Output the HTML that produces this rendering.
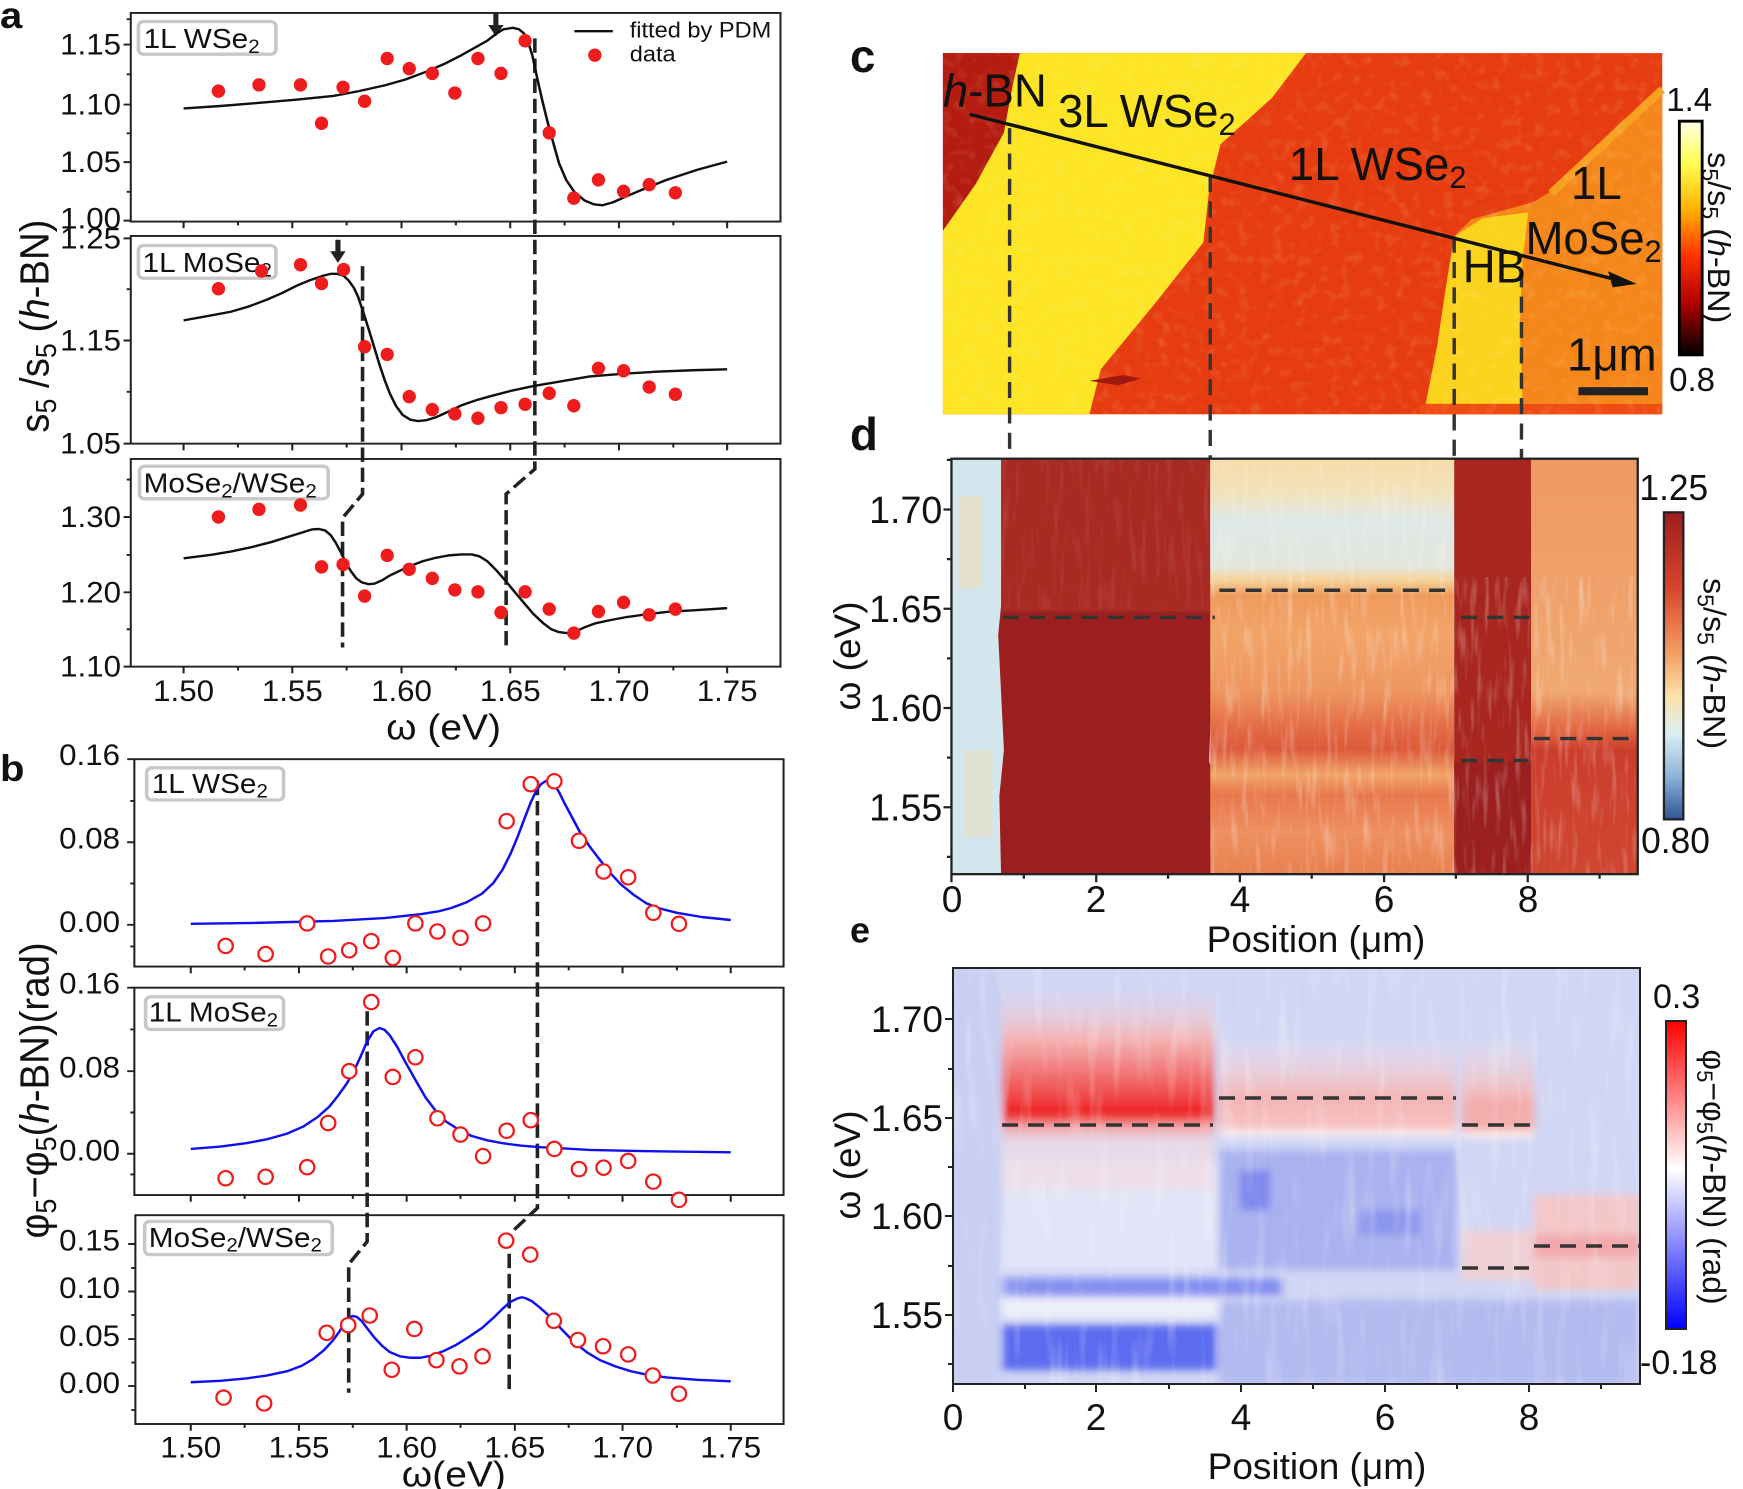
<!DOCTYPE html>
<html><head><meta charset="utf-8"><style>
html,body{margin:0;padding:0;background:#fff}
svg{display:block}
text{font-family:"Liberation Sans",Arial,sans-serif;fill:#111}
</style></head><body>
<svg width="1743" height="1489" viewBox="0 0 1743 1489" xmlns="http://www.w3.org/2000/svg">
<defs>
<linearGradient id="cbc" x1="0" y1="0" x2="0" y2="1">
<stop offset="0" stop-color="#ffffe8"/><stop offset="0.18" stop-color="#ffff50"/><stop offset="0.38" stop-color="#ffb000"/><stop offset="0.58" stop-color="#ff3000"/><stop offset="0.78" stop-color="#b00000"/><stop offset="1" stop-color="#000"/></linearGradient>
<linearGradient id="cbd" x1="0" y1="0" x2="0" y2="1">
<stop offset="0" stop-color="#a01c1c"/><stop offset="0.25" stop-color="#d8452c"/><stop offset="0.45" stop-color="#f39a60"/><stop offset="0.6" stop-color="#fbe2a8"/><stop offset="0.72" stop-color="#dceef2"/><stop offset="0.86" stop-color="#8cb4d8"/><stop offset="1" stop-color="#2f5597"/></linearGradient>
<linearGradient id="cbe" x1="0" y1="0" x2="0" y2="1">
<stop offset="0" stop-color="#ff0000"/><stop offset="0.48" stop-color="#ffffff"/><stop offset="1" stop-color="#0000ff"/></linearGradient>
<linearGradient id="dmid" x1="0" y1="795" x2="0" y2="1515" gradientUnits="userSpaceOnUse">
<stop offset="0" stop-color="#f6dca8"/><stop offset="0.08" stop-color="#f2e2bc"/><stop offset="0.15" stop-color="#dfe8e6"/><stop offset="0.26" stop-color="#e2e6dc"/><stop offset="0.29" stop-color="#f5d49c"/><stop offset="0.33" stop-color="#ef9a5c"/><stop offset="0.42" stop-color="#f2a468"/><stop offset="0.56" stop-color="#ee9660"/><stop offset="0.65" stop-color="#e36a44"/><stop offset="0.70" stop-color="#dc5a3a"/><stop offset="0.76" stop-color="#f2a468"/><stop offset="0.81" stop-color="#e8784c"/><stop offset="0.9" stop-color="#ee9060"/><stop offset="1" stop-color="#e8804e"/></linearGradient>
<linearGradient id="dright" x1="0" y1="795" x2="0" y2="1515" gradientUnits="userSpaceOnUse">
<stop offset="0" stop-color="#ee9a62"/><stop offset="0.3" stop-color="#f0a06a"/><stop offset="0.56" stop-color="#f0a870"/><stop offset="0.66" stop-color="#e0603e"/><stop offset="0.7" stop-color="#cc3e2c"/><stop offset="1" stop-color="#cf4630"/></linearGradient>
<linearGradient id="ered" x1="0" y1="0" x2="0" y2="1">
<stop offset="0" stop-color="#f0d8e4" stop-opacity="0"/><stop offset="0.35" stop-color="#f4b0b0"/><stop offset="0.7" stop-color="#f04848"/><stop offset="0.8" stop-color="#ee1c1c"/><stop offset="0.88" stop-color="#f5a0a0"/><stop offset="1" stop-color="#f0d8e0" stop-opacity="0.3"/></linearGradient>
<linearGradient id="epink" x1="0" y1="0" x2="0" y2="1">
<stop offset="0" stop-color="#f4e0ea" stop-opacity="0.2"/><stop offset="0.6" stop-color="#f4b4b4"/><stop offset="0.9" stop-color="#f6c0c0"/><stop offset="1" stop-color="#ffffff"/></linearGradient>
<filter id="bl" x="-5%" y="-5%" width="110%" height="110%"><feGaussianBlur stdDeviation="4"/></filter>
<filter id="streak" x="0" y="0" width="100%" height="100%"><feTurbulence type="fractalNoise" baseFrequency="0.09 0.012" numOctaves="2" seed="4"/><feColorMatrix type="matrix" values="0 0 0 0 1  0 0 0 0 1  0 0 0 0 1  0 0 0 2.2 -1.1"/></filter>
<filter id="noise" x="0" y="0" width="100%" height="100%"><feTurbulence type="fractalNoise" baseFrequency="0.05" numOctaves="2" seed="7"/><feColorMatrix type="matrix" values="0 0 0 0 1  0 0 0 0 1  0 0 0 0 0.6  0 0 0 1.4 -0.7"/></filter>
<clipPath id="clipd"><rect x="178" y="795" width="1204" height="720"/></clipPath>
<clipPath id="clipe"><rect x="953" y="968" width="687" height="416"/></clipPath>
</defs>

<!-- ============ PANEL A ============ -->
<g transform="scale(0.5128,0.4796)">
<text x="0" y="58" font-size="78" font-weight="bold">a</text>
<g fill="none" stroke="#222" stroke-width="4">
<rect x="255" y="27" width="1267" height="435"/>
<rect x="255" y="492" width="1267" height="433"/>
<rect x="255" y="957" width="1267" height="433"/>
</g>
<g stroke="#222" stroke-width="4">
<path d="M358,462v14M570,462v14M783,462v14M995,462v14M1207,462v14M1418,462v14M464,462v8M676,462v8M889,462v8M1101,462v8M1313,462v8M358,925v14M570,925v14M783,925v14M995,925v14M1207,925v14M1418,925v14M464,925v8M676,925v8M889,925v8M1101,925v8M1313,925v8M358,1390v14M570,1390v14M783,1390v14M995,1390v14M1207,1390v14M1418,1390v14M464,1390v8M676,1390v8M889,1390v8M1101,1390v8M1313,1390v8"/>
<path d="M255,93h-14M255,218h-14M255,338h-14M255,460h-14M255,155h-8M255,278h-8M255,400h-8M255,40h-8M255,497h-14M255,710h-14M255,925h-14M255,603h-8M255,817h-8M255,1078h-14M255,1235h-14M255,1390h-14M255,1000h-8M255,1157h-8M255,1312h-8"/>
</g>
<g font-size="61" text-anchor="end">
<text x="236" y="114">1.15</text><text x="236" y="239">1.10</text><text x="236" y="359">1.05</text><text x="236" y="476">1.00</text>
<text x="236" y="518">1.25</text><text x="236" y="731">1.15</text><text x="236" y="946">1.05</text>
<text x="236" y="1099">1.30</text><text x="236" y="1256">1.20</text><text x="236" y="1411">1.10</text>
</g>
<g font-size="61" text-anchor="middle">
<text x="358" y="1462">1.50</text><text x="570" y="1462">1.55</text><text x="783" y="1462">1.60</text><text x="995" y="1462">1.65</text><text x="1207" y="1462">1.70</text><text x="1418" y="1462">1.75</text>
</g>
<text x="865" y="1542" font-size="76" text-anchor="middle">ω (eV)</text>
<text transform="translate(95,680) rotate(-90)" font-size="80" text-anchor="middle">s<tspan dy="14" font-size="56">5</tspan><tspan dy="-14"> /s</tspan><tspan dy="14" font-size="56">5</tspan><tspan dy="-14"> (</tspan><tspan font-style="italic">h</tspan>-BN)</text>
<g fill="#fff" stroke="#c8c8c8" stroke-width="7">
<rect x="270" y="45" width="268" height="68" rx="10"/>
<rect x="270" y="512" width="268" height="68" rx="10"/>
<rect x="272" y="972" width="368" height="68" rx="10"/>
</g>
<g font-size="58">
<text x="280" y="100">1L WSe<tspan dy="10" font-size="40">2</tspan></text>
<text x="278" y="567">1L MoSe<tspan dy="10" font-size="40">2</tspan></text>
<text x="280" y="1027">MoSe<tspan dy="10" font-size="40">2</tspan><tspan dy="-10">/WSe</tspan><tspan dy="10" font-size="40">2</tspan></text>
</g>
<path d="M1120,65H1195" stroke="#111" stroke-width="5"/>
<text x="1228" y="78" font-size="46">fitted by PDM</text>
<text x="1228" y="128" font-size="46">data</text>
<g fill="none" stroke="#222" stroke-width="7" stroke-dasharray="30,12">
<path d="M1043,80V978L987,1030V1355"/>
<path d="M707,555V1030L668,1080V1350"/>
</g>
<path d="M962,28h10v24h10l-15,24l-15,-24h10z" fill="#222"/>
<path d="M654,500h10v24h10l-15,24l-15,-24h10z" fill="#222"/>
<g fill="none" stroke="#111" stroke-width="5" stroke-linejoin="round">
<polyline points="358,226 430,221 500,215 575,208 650,200 700,190 750,178 790,166 830,150 865,134 900,115 930,97 950,85 968,70 982,61 1000,58 1012,61 1022,70 1030,88 1038,115 1048,165 1058,212 1068,255 1080,302 1090,340 1104,375 1120,400 1140,418 1158,426 1175,428 1195,422 1220,410 1260,392 1300,375 1360,354 1418,337"/>
<polyline points="358,668 410,658 450,650 485,639 520,625 550,611 580,595 605,584 630,575 645,571 658,571 670,575 680,585 690,600 698,618 705,640 712,663 720,690 730,725 740,760 750,792 760,820 772,846 785,865 800,875 815,878 832,876 850,870 875,858 900,845 930,834 960,825 1000,814 1040,805 1100,794 1150,785 1220,779 1280,775 1350,772 1418,770"/>
<polyline points="358,1164 410,1157 450,1150 490,1141 530,1130 560,1120 590,1110 608,1104 622,1103 634,1106 645,1116 655,1132 665,1152 675,1175 685,1192 695,1206 705,1214 718,1218 730,1217 745,1210 760,1200 780,1190 800,1180 825,1170 850,1163 875,1158 900,1156 920,1156 935,1160 950,1170 967,1188 985,1210 1002,1232 1020,1255 1040,1280 1060,1300 1075,1312 1090,1318 1105,1320 1120,1318 1140,1308 1160,1300 1190,1293 1220,1287 1260,1281 1300,1276 1360,1272 1418,1268"/>
</g>
<g fill="#ee1c1c">
<ellipse cx="1160" cy="115" rx="13" ry="14"/>
<ellipse cx="426" cy="190" rx="13" ry="14"/><ellipse cx="505" cy="177" rx="13" ry="14"/><ellipse cx="586" cy="177" rx="13" ry="14"/><ellipse cx="627" cy="257" rx="13" ry="14"/><ellipse cx="669" cy="182" rx="13" ry="14"/><ellipse cx="711" cy="211" rx="13" ry="14"/><ellipse cx="755" cy="122" rx="13" ry="14"/><ellipse cx="798" cy="143" rx="13" ry="14"/><ellipse cx="843" cy="153" rx="13" ry="14"/><ellipse cx="887" cy="194" rx="13" ry="14"/><ellipse cx="932" cy="122" rx="13" ry="14"/><ellipse cx="977" cy="153" rx="13" ry="14"/><ellipse cx="1024" cy="85" rx="13" ry="14"/><ellipse cx="1071" cy="277" rx="13" ry="14"/><ellipse cx="1119" cy="413" rx="13" ry="14"/><ellipse cx="1167" cy="375" rx="13" ry="14"/><ellipse cx="1216" cy="399" rx="13" ry="14"/><ellipse cx="1266" cy="385" rx="13" ry="14"/><ellipse cx="1317" cy="402" rx="13" ry="14"/>
<ellipse cx="426" cy="602" rx="13" ry="14"/><ellipse cx="510" cy="565" rx="13" ry="14"/><ellipse cx="586" cy="552" rx="13" ry="14"/><ellipse cx="627" cy="591" rx="13" ry="14"/><ellipse cx="670" cy="562" rx="13" ry="14"/><ellipse cx="711" cy="723" rx="13" ry="14"/><ellipse cx="755" cy="739" rx="13" ry="14"/><ellipse cx="798" cy="827" rx="13" ry="14"/><ellipse cx="843" cy="854" rx="13" ry="14"/><ellipse cx="887" cy="863" rx="13" ry="14"/><ellipse cx="932" cy="872" rx="13" ry="14"/><ellipse cx="977" cy="850" rx="13" ry="14"/><ellipse cx="1024" cy="843" rx="13" ry="14"/><ellipse cx="1071" cy="820" rx="13" ry="14"/><ellipse cx="1119" cy="846" rx="13" ry="14"/><ellipse cx="1167" cy="768" rx="13" ry="14"/><ellipse cx="1216" cy="773" rx="13" ry="14"/><ellipse cx="1266" cy="807" rx="13" ry="14"/><ellipse cx="1317" cy="822" rx="13" ry="14"/>
<ellipse cx="426" cy="1078" rx="13" ry="14"/><ellipse cx="505" cy="1062" rx="13" ry="14"/><ellipse cx="586" cy="1053" rx="13" ry="14"/><ellipse cx="627" cy="1182" rx="13" ry="14"/><ellipse cx="669" cy="1177" rx="13" ry="14"/><ellipse cx="711" cy="1243" rx="13" ry="14"/><ellipse cx="755" cy="1158" rx="13" ry="14"/><ellipse cx="798" cy="1187" rx="13" ry="14"/><ellipse cx="843" cy="1206" rx="13" ry="14"/><ellipse cx="887" cy="1230" rx="13" ry="14"/><ellipse cx="932" cy="1234" rx="13" ry="14"/><ellipse cx="977" cy="1277" rx="13" ry="14"/><ellipse cx="1024" cy="1234" rx="13" ry="14"/><ellipse cx="1071" cy="1270" rx="13" ry="14"/><ellipse cx="1119" cy="1320" rx="13" ry="14"/><ellipse cx="1167" cy="1275" rx="13" ry="14"/><ellipse cx="1216" cy="1256" rx="13" ry="14"/><ellipse cx="1266" cy="1282" rx="13" ry="14"/><ellipse cx="1317" cy="1270" rx="13" ry="14"/>
</g>
</g>

<!-- ============ PANEL B ============ -->
<g transform="translate(0,740) scale(0.5128,0.48)">
<text x="0" y="85" font-size="78" font-weight="bold">b</text>
<g fill="none" stroke="#222" stroke-width="4">
<rect x="262" y="40" width="1266" height="432"/>
<rect x="262" y="516" width="1266" height="432"/>
<rect x="264" y="990" width="1264" height="435"/>
</g>
<g stroke="#222" stroke-width="4">
<path d="M372,472v14M583,472v14M793,472v14M1004,472v14M1214,472v14M1425,472v14M477,472v8M688,472v8M898,472v8M1109,472v8M1320,472v8M372,948v14M583,948v14M793,948v14M1004,948v14M1214,948v14M1425,948v14M477,948v8M688,948v8M898,948v8M1109,948v8M1320,948v8M372,1425v14M583,1425v14M793,1425v14M1004,1425v14M1214,1425v14M1425,1425v14M477,1425v8M688,1425v8M898,1425v8M1109,1425v8M1320,1425v8"/>
<path d="M262,40h-14M262,213h-14M262,385h-14M262,127h-8M262,299h-8M262,430h-8M262,516h-14M262,690h-14M262,862h-14M262,603h-8M262,776h-8M262,905h-8M264,1050h-14M264,1149h-14M264,1248h-14M264,1346h-14M264,1100h-8M264,1198h-8M264,1297h-8M264,1396h-8"/>
</g>
<g font-size="61" text-anchor="end">
<text x="234" y="52">0.16</text><text x="234" y="226">0.08</text><text x="234" y="400">0.00</text>
<text x="234" y="528">0.16</text><text x="234" y="703">0.08</text><text x="234" y="876">0.00</text>
<text x="234" y="1064">0.15</text><text x="234" y="1163">0.10</text><text x="234" y="1262">0.05</text><text x="234" y="1360">0.00</text>
</g>
<g font-size="61" text-anchor="middle">
<text x="372" y="1495">1.50</text><text x="583" y="1495">1.55</text><text x="793" y="1495">1.60</text><text x="1004" y="1495">1.65</text><text x="1214" y="1495">1.70</text><text x="1425" y="1495">1.75</text>
</g>
<text x="885" y="1555" font-size="76" text-anchor="middle">ω(eV)</text>
<text transform="translate(95,730) rotate(-90)" font-size="80" text-anchor="middle">φ<tspan dy="14" font-size="56">5</tspan><tspan dy="-14">−φ</tspan><tspan dy="14" font-size="56">5</tspan><tspan dy="-14">(</tspan><tspan font-style="italic">h</tspan>-BN)(rad)</text>
<g fill="#fff" stroke="#c8c8c8" stroke-width="7">
<rect x="286" y="58" width="267" height="67" rx="10"/>
<rect x="284" y="535" width="269" height="68" rx="10"/>
<rect x="282" y="1003" width="366" height="69" rx="10"/>
</g>
<g font-size="58">
<text x="296" y="110">1L WSe<tspan dy="10" font-size="40">2</tspan></text>
<text x="290" y="587">1L MoSe<tspan dy="10" font-size="40">2</tspan></text>
<text x="290" y="1056">MoSe<tspan dy="10" font-size="40">2</tspan><tspan dy="-10">/WSe</tspan><tspan dy="10" font-size="40">2</tspan></text>
</g>
<g fill="none" stroke="#222" stroke-width="7" stroke-dasharray="30,12">
<path d="M1048,85V975L993,1030V1355"/>
<path d="M716,565V1045L680,1092V1360"/>
</g>
<g fill="none" stroke="#1010ee" stroke-width="5" stroke-linejoin="round">
<polyline points="372,383 500,381 650,377 750,371 820,363 855,357 880,350 910,338 940,320 962,298 980,270 996,236 1010,200 1023,163 1035,130 1046,105 1055,92 1065,85 1073,87 1080,92 1090,108 1100,130 1115,160 1130,190 1150,222 1170,250 1190,277 1210,300 1235,322 1260,340 1290,352 1320,360 1370,369 1425,375"/>
<polyline points="372,852 430,847 480,840 520,832 560,820 592,805 620,785 642,764 660,740 676,716 690,690 703,660 715,630 728,607 740,600 750,604 760,615 775,640 790,670 810,708 830,745 850,773 870,795 895,812 920,825 950,834 980,840 1015,845 1050,848 1100,851 1150,854 1280,857 1425,859"/>
<polyline points="372,1338 430,1335 480,1330 520,1324 560,1315 588,1304 610,1290 632,1271 650,1250 662,1232 672,1215 680,1204 688,1200 696,1202 705,1210 717,1227 730,1245 745,1262 760,1275 780,1284 800,1287 820,1287 840,1283 865,1273 890,1260 915,1243 940,1225 962,1204 980,1185 995,1171 1010,1163 1018,1161 1025,1163 1037,1169 1050,1180 1065,1194 1080,1210 1100,1233 1120,1255 1145,1276 1170,1292 1200,1305 1230,1315 1265,1323 1300,1328 1360,1333 1425,1336"/>
</g>
<g fill="#fff" stroke="#ee1c1c" stroke-width="4.5">
<ellipse cx="440" cy="429" rx="14" ry="15"/><ellipse cx="518" cy="446" rx="14" ry="15"/><ellipse cx="599" cy="382" rx="14" ry="15"/><ellipse cx="640" cy="451" rx="14" ry="15"/><ellipse cx="681" cy="438" rx="14" ry="15"/><ellipse cx="724" cy="419" rx="14" ry="15"/><ellipse cx="766" cy="454" rx="14" ry="15"/><ellipse cx="810" cy="382" rx="14" ry="15"/><ellipse cx="853" cy="399" rx="14" ry="15"/><ellipse cx="898" cy="412" rx="14" ry="15"/><ellipse cx="942" cy="382" rx="14" ry="15"/><ellipse cx="988" cy="169" rx="14" ry="15"/><ellipse cx="1035" cy="92" rx="14" ry="15"/><ellipse cx="1081" cy="86" rx="14" ry="15"/><ellipse cx="1129" cy="210" rx="14" ry="15"/><ellipse cx="1177" cy="274" rx="14" ry="15"/><ellipse cx="1225" cy="286" rx="14" ry="15"/><ellipse cx="1274" cy="360" rx="14" ry="15"/><ellipse cx="1324" cy="383" rx="14" ry="15"/>
<ellipse cx="440" cy="913" rx="14" ry="15"/><ellipse cx="518" cy="910" rx="14" ry="15"/><ellipse cx="599" cy="890" rx="14" ry="15"/><ellipse cx="640" cy="798" rx="14" ry="15"/><ellipse cx="681" cy="690" rx="14" ry="15"/><ellipse cx="724" cy="546" rx="14" ry="15"/><ellipse cx="766" cy="702" rx="14" ry="15"/><ellipse cx="810" cy="661" rx="14" ry="15"/><ellipse cx="853" cy="788" rx="14" ry="15"/><ellipse cx="898" cy="822" rx="14" ry="15"/><ellipse cx="942" cy="867" rx="14" ry="15"/><ellipse cx="988" cy="814" rx="14" ry="15"/><ellipse cx="1035" cy="792" rx="14" ry="15"/><ellipse cx="1081" cy="852" rx="14" ry="15"/><ellipse cx="1129" cy="894" rx="14" ry="15"/><ellipse cx="1177" cy="891" rx="14" ry="15"/><ellipse cx="1225" cy="877" rx="14" ry="15"/><ellipse cx="1274" cy="920" rx="14" ry="15"/><ellipse cx="1324" cy="958" rx="14" ry="15"/>
<ellipse cx="436" cy="1370" rx="14" ry="15"/><ellipse cx="515" cy="1382" rx="14" ry="15"/><ellipse cx="637" cy="1235" rx="14" ry="15"/><ellipse cx="679" cy="1219" rx="14" ry="15"/><ellipse cx="721" cy="1199" rx="14" ry="15"/><ellipse cx="764" cy="1312" rx="14" ry="15"/><ellipse cx="808" cy="1227" rx="14" ry="15"/><ellipse cx="851" cy="1292" rx="14" ry="15"/><ellipse cx="896" cy="1305" rx="14" ry="15"/><ellipse cx="941" cy="1284" rx="14" ry="15"/><ellipse cx="987" cy="1043" rx="14" ry="15"/><ellipse cx="1034" cy="1072" rx="14" ry="15"/><ellipse cx="1080" cy="1210" rx="14" ry="15"/><ellipse cx="1127" cy="1250" rx="14" ry="15"/><ellipse cx="1176" cy="1263" rx="14" ry="15"/><ellipse cx="1225" cy="1280" rx="14" ry="15"/><ellipse cx="1273" cy="1324" rx="14" ry="15"/><ellipse cx="1324" cy="1362" rx="14" ry="15"/>
</g>
</g>

<!-- ============ PANELS C & D ============ -->
<g transform="translate(850,0) scale(0.570,0.577)">
<text x="0" y="125" font-size="80" font-weight="bold">c</text>
<rect x="163" y="92" width="1262" height="626" fill="#e63c10"/>
<polygon points="163,92 298,92 285,150 270,230 220,320 163,400" fill="#b41c10"/>
<polygon points="298,92 800,92 740,170 650,250 630,330 620,420 540,520 440,640 420,718 163,718 163,400 220,320 270,230 285,150" fill="#fde424"/>
<polygon points="1425,150 1350,230 1280,300 1200,350 1090,380 1060,410 1040,560 1010,718 1425,718" fill="#f5861a"/>
<polygon points="1010,700 1030,600 1045,500 1060,410 1110,378 1190,368 1180,450 1175,560 1180,700" fill="#fbd21c"/>
<path d="M1425,155L1230,335" stroke="#f8a020" stroke-width="14" fill="none"/>
<rect x="1000" y="700" width="425" height="18" fill="#ef4c12"/>
<rect x="163" y="92" width="1262" height="626" filter="url(#noise)" opacity="0.25"/>
<path d="M420,660l60,-10l30,6l-40,12z" fill="#a01810"/>
<g fill="none" stroke="#333" stroke-width="6" stroke-dasharray="28,16">
<path d="M280,222V795M632,305V795M1060,410V795M1178,470V795"/>
</g>
<path d="M210,198L1345,485" stroke="#111" stroke-width="6"/>
<path d="M1380,492L1330,470L1338,498z" fill="#111"/>
<g font-size="80">
<text x="163" y="185"><tspan font-style="italic">h</tspan>-BN</text>
<text x="365" y="220">3L WSe<tspan dy="14" font-size="54">2</tspan></text>
<text x="770" y="312">1L WSe<tspan dy="14" font-size="54">2</tspan></text>
<text x="1265" y="345">1L</text>
<text x="1185" y="440">MoSe<tspan dy="14" font-size="54">2</tspan></text>
<text x="1075" y="490">HB</text>
<text x="1258" y="642">1μm</text>
</g>
<rect x="1278" y="671" width="122" height="14" fill="#222"/>
<rect x="1455" y="210" width="40" height="405" fill="url(#cbc)" stroke="#000" stroke-width="5"/>
<g font-size="58"><text x="1432" y="192">1.4</text><text x="1437" y="678">0.8</text></g>
<text transform="translate(1505,412) rotate(90)" font-size="56" text-anchor="middle">s<tspan dy="10" font-size="40">5</tspan><tspan dy="-10">/s</tspan><tspan dy="10" font-size="40">5</tspan><tspan dy="-10"> (</tspan><tspan font-style="italic">h</tspan>-BN)</text>

<text x="0" y="780" font-size="80" font-weight="bold">d</text>
<g clip-path="url(#clipd)">
<rect x="178" y="795" width="1204" height="720" fill="#d3e6ee"/>
<rect x="190" y="860" width="40" height="160" fill="#f2dcb8" opacity="0.6"/>
<rect x="200" y="1300" width="50" height="150" fill="#f0dcb8" opacity="0.5"/>
<polygon points="268,795 632,795 628,1000 640,1040 630,1320 645,1360 632,1515 265,1515 262,1380 270,1300 260,1100 270,1000" fill="#9b1f1f"/>
<rect x="265" y="795" width="367" height="265" fill="#a82a22"/>
<rect x="632" y="795" width="428" height="720" fill="url(#dmid)"/>
<rect x="1060" y="795" width="135" height="720" fill="#a8261f"/>
<rect x="1060" y="1320" width="135" height="195" fill="#9b1f1f"/>
<rect x="1195" y="795" width="187" height="720" fill="url(#dright)"/>
<rect x="632" y="1000" width="750" height="515" filter="url(#streak)" opacity="0.35"/>
<rect x="265" y="795" width="367" height="260" filter="url(#streak)" opacity="0.12"/>
<rect x="632" y="795" width="428" height="200" filter="url(#streak)" opacity="0.3"/>
</g>
<rect x="178" y="795" width="1204" height="720" fill="none" stroke="#222" stroke-width="4"/>
<g stroke="#222" stroke-width="4">
<path d="M178,883h-14M178,1055h-14M178,1227h-14M178,1399h-14M178,797h-8M178,969h-8M178,1141h-8M178,1313h-8M178,1485h-8"/>
<path d="M178,1515v14M432,1515v14M684,1515v14M937,1515v14M1189,1515v14M305,1515v8M558,1515v8M810,1515v8M1063,1515v8M1315,1515v8"/>
</g>
<g font-size="66" text-anchor="end">
<text x="162" y="906">1.70</text><text x="162" y="1078">1.65</text><text x="162" y="1250">1.60</text><text x="162" y="1422">1.55</text>
</g>
<g fill="none" stroke="#333" stroke-width="6" stroke-dasharray="28,18">
<path d="M268,1070H640M648,1023H1062M1072,1070H1202M1200,1280H1382M1072,1318H1190"/>
</g>
<rect x="1428" y="888" width="34" height="532" fill="url(#cbd)" stroke="#222" stroke-width="4"/>
<g font-size="62"><text x="1385" y="867">1.25</text><text x="1388" y="1478">0.80</text></g>
<text transform="translate(1497,1150) rotate(90)" font-size="56" text-anchor="middle">s<tspan dy="10" font-size="40">5</tspan><tspan dy="-10">/s</tspan><tspan dy="10" font-size="40">5</tspan><tspan dy="-10"> (</tspan><tspan font-style="italic">h</tspan>-BN)</text>
</g>
<text transform="translate(860,656) rotate(-90)" font-size="37" text-anchor="middle">ω (eV)</text>
<g font-size="37" text-anchor="middle">
<text x="952" y="912">0</text><text x="1096" y="912">2</text><text x="1240" y="912">4</text><text x="1384" y="912">6</text><text x="1528" y="912">8</text>
<text x="1316" y="952">Position (μm)</text>
</g>

<!-- ============ PANEL E ============ -->
<text x="850" y="933" font-size="36" font-weight="bold" dominant-baseline="middle">e</text>
<g clip-path="url(#clipe)">
<rect x="953" y="968" width="687" height="416" fill="#d0d6f4"/>
<g filter="url(#bl)">
<rect x="1000" y="1160" width="220" height="110" fill="#e2e4f8"/>
<rect x="1002" y="985" width="212" height="160" fill="url(#ered)"/>
<rect x="1002" y="1140" width="212" height="50" fill="#f2dce4" opacity="0.7"/>
<rect x="1219" y="1040" width="237" height="96" fill="url(#epink)"/>
<rect x="1462" y="1040" width="72" height="98" fill="url(#epink)"/>
<rect x="1462" y="1100" width="72" height="30" fill="#f4a8a8" opacity="0.7"/>
<rect x="1219" y="1150" width="237" height="120" fill="#a9b2ef"/>
<rect x="1240" y="1170" width="30" height="40" fill="#7d88ee"/>
<rect x="1360" y="1210" width="60" height="25" fill="#8c96ee"/>
<rect x="1534" y="1195" width="106" height="95" fill="#f3c6c8"/>
<rect x="1534" y="1235" width="106" height="22" fill="#f2a8aa"/>
<rect x="1462" y="1230" width="72" height="50" fill="#efd0d6"/>
<rect x="1002" y="1278" width="280" height="18" fill="#8490f0"/>
<rect x="1002" y="1298" width="280" height="20" fill="#eceef8"/>
<rect x="1002" y="1325" width="215" height="45" fill="#5c6cf0"/>
<rect x="1219" y="1300" width="420" height="84" fill="#b2baf0"/>
<rect x="953" y="968" width="49" height="416" fill="#c8cff2"/>
</g>
<rect x="953" y="968" width="687" height="416" filter="url(#streak)" opacity="0.3"/>
</g>
<rect x="953" y="968" width="687" height="416" fill="none" stroke="#222" stroke-width="2"/>
<g stroke="#222" stroke-width="2">
<path d="M953,1019h-8M953,1118h-8M953,1216h-8M953,1315h-8M953,1069h-5M953,1167h-5M953,1266h-5M953,1364h-5"/>
<path d="M953,1384v8M1096,1384v8M1241,1384v8M1385,1384v8M1529,1384v8M1025,1384v5M1169,1384v5M1313,1384v5M1457,1384v5M1601,1384v5"/>
</g>
<g font-size="37" text-anchor="end">
<text x="943" y="1032">1.70</text><text x="943" y="1131">1.65</text><text x="943" y="1229">1.60</text><text x="943" y="1328">1.55</text>
</g>
<text transform="translate(860,1165) rotate(-90)" font-size="37" text-anchor="middle">ω (eV)</text>
<g font-size="37" text-anchor="middle">
<text x="953" y="1430">0</text><text x="1096" y="1430">2</text><text x="1241" y="1430">4</text><text x="1385" y="1430">6</text><text x="1529" y="1430">8</text>
<text x="1317" y="1479">Position (μm)</text>
</g>
<g fill="none" stroke="#333" stroke-width="3.5" stroke-dasharray="16,10">
<path d="M1002,1125H1213M1219,1098H1456M1462,1125H1537M1534,1246H1640M1462,1268H1529"/>
</g>
<rect x="1666" y="1021" width="20" height="308" fill="url(#cbe)" stroke="#222" stroke-width="2"/>
<text x="1653" y="1008" font-size="34">0.3</text>
<text x="1640" y="1374" font-size="34">-0.18</text>
<text transform="translate(1703,1177) rotate(90)" font-size="32" text-anchor="middle">φ<tspan dy="6" font-size="22">5</tspan><tspan dy="-6">−φ</tspan><tspan dy="6" font-size="22">5</tspan><tspan dy="-6">(</tspan><tspan font-style="italic">h</tspan>-BN) (rad)</text>
</svg>
</body></html>
